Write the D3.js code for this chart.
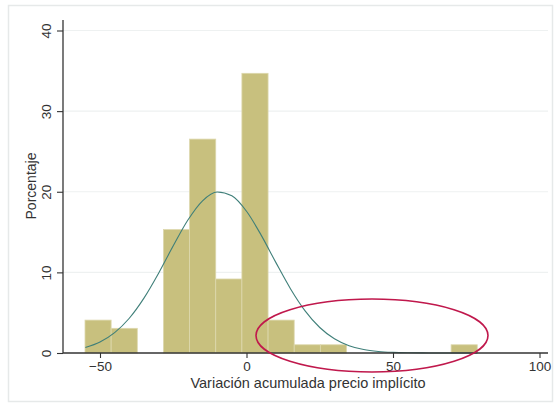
<!DOCTYPE html>
<html>
<head>
<meta charset="utf-8">
<script src="https://cdn.jsdelivr.net/npm/d3@7"></script>
<style>
  html, body { margin: 0; padding: 0; background: #ffffff; }
  svg { display: block; font-family: "Liberation Sans", Arial, sans-serif; }
</style>
</head>
<body>
<svg id="chart" width="555" height="404"></svg>
<script>
// ---- Data ----
const binEdges = [-55.12, -46.2, -37.27, -28.35, -19.42, -10.5, -1.57, 7.36, 16.28, 25.21, 34.13, 43.06, 51.98, 60.91, 69.83, 78.76];
const percents = [4.08, 3.06, 0, 15.31, 26.53, 9.18, 34.69, 4.08, 1.02, 1.02, 0, 0, 0, 0, 1.02];
const curveX = [-55, -50, -45, -40, -35, -30, -25, -20, -15, -10, -5, 0, 5, 10, 15, 20, 25, 30, 35, 40, 45, 50, 55, 60, 65, 70, 75, 78.76];
const curveY = [0.68, 1.37, 2.53, 4.31, 6.80, 9.89, 13.29, 16.49, 18.88, 19.97, 19.50, 17.58, 14.62, 11.24, 7.98, 5.23, 3.16, 1.77, 0.91, 0.43, 0.19, 0.08, 0.03, 0.01, 0, 0, 0, 0];
const xTicks = [-50, 0, 50, 100];
const yTicks = [0, 10, 20, 30, 40];
const xTitle = "Variación acumulada precio implícito";
const yTitle = "Porcentaje";

// ---- Layout ----
const svg = d3.select("#chart");
const x = d3.scaleLinear().domain([-50, 100]).range([100, 539.5]);
const y = d3.scaleLinear().domain([0, 40]).range([353, 30.5]);
const plotLeft = 63, plotRight = 548;

// outer frame
svg.append("rect").attr("x", 8.5).attr("y", 5.5).attr("width", 544).attr("height", 396)
  .attr("fill", "#ffffff").attr("stroke", "#e6e9e9").attr("stroke-width", 1.5);

// gridlines
svg.append("g").selectAll("line").data(yTicks.filter(d => d > 0)).join("line")
  .attr("x1", plotLeft).attr("x2", plotRight)
  .attr("y1", d => y(d)).attr("y2", d => y(d))
  .attr("stroke", "#eef1f1").attr("stroke-width", 1.2);

// bars
const bins = percents.map((p, i) => ({x0: binEdges[i], x1: binEdges[i + 1], p}));
svg.append("g").selectAll("rect").data(bins.filter(b => b.p > 0)).join("rect")
  .attr("x", d => x(d.x0)).attr("width", d => x(d.x1) - x(d.x0))
  .attr("y", d => y(d.p)).attr("height", d => y(0) - y(d.p))
  .attr("fill", "#c8c07e").attr("stroke", "#ddd8ad").attr("stroke-width", 0.8);

// normal curve
const line = d3.line().x((d, i) => x(curveX[i])).y(d => y(d)).curve(d3.curveMonotoneX);
svg.append("path").datum(curveY).attr("d", line)
  .attr("fill", "none").attr("stroke", "#3f7f79").attr("stroke-width", 1.1);

// axes
const axisColor = "#333333";
const xAxis = svg.append("g").attr("transform", `translate(0,${y(0)})`)
  .call(d3.axisBottom(x).tickValues(xTicks).tickSize(5).tickSizeOuter(0).tickPadding(3));
xAxis.select(".domain").remove();
xAxis.append("line").attr("x1", plotLeft).attr("x2", plotRight).attr("stroke", axisColor).attr("stroke-width", 1.3);
xAxis.selectAll(".tick line").attr("stroke", axisColor).attr("stroke-width", 1.1);
xAxis.selectAll(".tick text").attr("fill", "#333").attr("font-size", 13.5)
  .attr("font-family", "Liberation Sans, Arial, sans-serif");

const yAxis = svg.append("g").attr("transform", `translate(${plotLeft},0)`)
  .call(d3.axisLeft(y).tickValues(yTicks).tickSize(6).tickSizeOuter(0));
yAxis.select(".domain").remove();
yAxis.append("line").attr("y1", 20).attr("y2", y(0)).attr("stroke", axisColor).attr("stroke-width", 1.3);
yAxis.selectAll(".tick line").attr("stroke", axisColor).attr("stroke-width", 1.1);
yAxis.selectAll(".tick text")
  .attr("fill", "#333").attr("font-size", 13.5)
  .attr("font-family", "Liberation Sans, Arial, sans-serif")
  .attr("x", null).attr("dy", null)
  .attr("text-anchor", "middle")
  .attr("transform", "translate(-12,0) rotate(-90)");

// axis titles
svg.append("text").attr("x", 308).attr("y", 388).attr("text-anchor", "middle")
  .attr("font-size", 14.5).attr("fill", "#333").text(xTitle);
svg.append("text").attr("transform", "translate(36,186) rotate(-90)").attr("text-anchor", "middle")
  .attr("font-size", 14).attr("fill", "#333").text(yTitle);

// highlight ellipse
svg.append("ellipse").attr("cx", 372).attr("cy", 335.5).attr("rx", 116).attr("ry", 36.5)
  .attr("fill", "none").attr("stroke", "#c0184c").attr("stroke-width", 1.6);
</script>
</body>
</html>
